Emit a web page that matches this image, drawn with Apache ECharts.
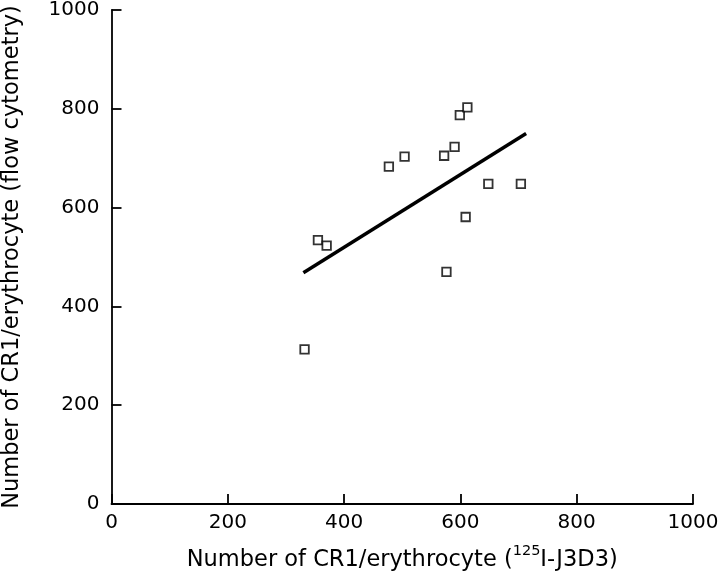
<!DOCTYPE html>
<html>
<head>
<meta charset="utf-8">
<script src="https://cdn.jsdelivr.net/npm/echarts@6/dist/echarts.min.js"></script>
<style>html,body{margin:0;padding:0;background:#fff}#c{width:718px;height:573px}</style>
</head>
<body>
<div id="c"></div>
<script>
var xValues = [332, 355, 370, 477, 504, 572, 590, 599, 612, 648, 704, 609, 576];
var yValues = [313, 534, 523, 683, 703, 705, 723, 787, 803, 648, 648, 581, 470];
var fitLineX = [330, 713];
var fitLineY = [468, 750];
var axisTicks = [0, 200, 400, 600, 800, 1000];

var points = xValues.map(function (x, i) { return [x, yValues[i]]; });
var fit = fitLineX.map(function (x, i) { return [x, fitLineY[i]]; });

var font = '"DejaVu Sans", sans-serif';
var chart = echarts.init(document.getElementById('c'));
chart.setOption({
  backgroundColor: '#fff',
  animation: false,
  grid: { left: 111.5, right: 25, top: 10, bottom: 69, containLabel: false, outerBoundsMode: 'none' },
  xAxis: {
    type: 'value', min: axisTicks[0], max: axisTicks[axisTicks.length - 1], interval: 200,
    splitLine: { show: false },
    axisLine: { lineStyle: { color: '#000', width: 1.8 } },
    axisTick: { inside: true, length: 10, lineStyle: { color: '#000', width: 1.8 } },
    axisLabel: { color: '#000', fontSize: 20, fontFamily: font, margin: 9, formatter: function (v) { return String(v); } },
    name: '{n|Number of CR1/erythrocyte (}{s|125}{n|I-J3D3)}',
    nameLocation: 'middle', nameGap: 40,
    nameTextStyle: {
      fontFamily: font, color: '#000', fontSize: 22.5,
      rich: {
        n: { fontSize: 22.5, fontFamily: font, color: '#000', lineHeight: 28, verticalAlign: 'bottom' },
        s: { fontSize: 14.5, fontFamily: font, color: '#000', lineHeight: 14, verticalAlign: 'top' }
      }
    }
  },
  yAxis: {
    type: 'value', min: axisTicks[0], max: axisTicks[axisTicks.length - 1], interval: 200,
    splitLine: { show: false },
    axisLine: { lineStyle: { color: '#000', width: 1.8 } },
    axisTick: { inside: true, length: 10, lineStyle: { color: '#000', width: 1.8 } },
    axisLabel: { color: '#000', fontSize: 20, fontFamily: font, margin: 12, formatter: function (v) { return String(v); } },
    name: 'Number of CR1/erythrocyte (flow cytometry)',
    nameLocation: 'middle', nameGap: 88,
    nameTextStyle: { fontSize: 22.5, fontFamily: font, color: '#000' }
  },
  series: [
    {
      type: 'line', data: fit, symbol: 'none',
      lineStyle: { color: '#000', width: 3.5 }, z: 2
    },
    {
      type: 'scatter', data: points, symbol: 'rect', symbolSize: 8.5,
      itemStyle: { color: '#fff', borderColor: '#000', borderWidth: 1.8 }, z: 3
    }
  ]
});
</script>
</body>
</html>
